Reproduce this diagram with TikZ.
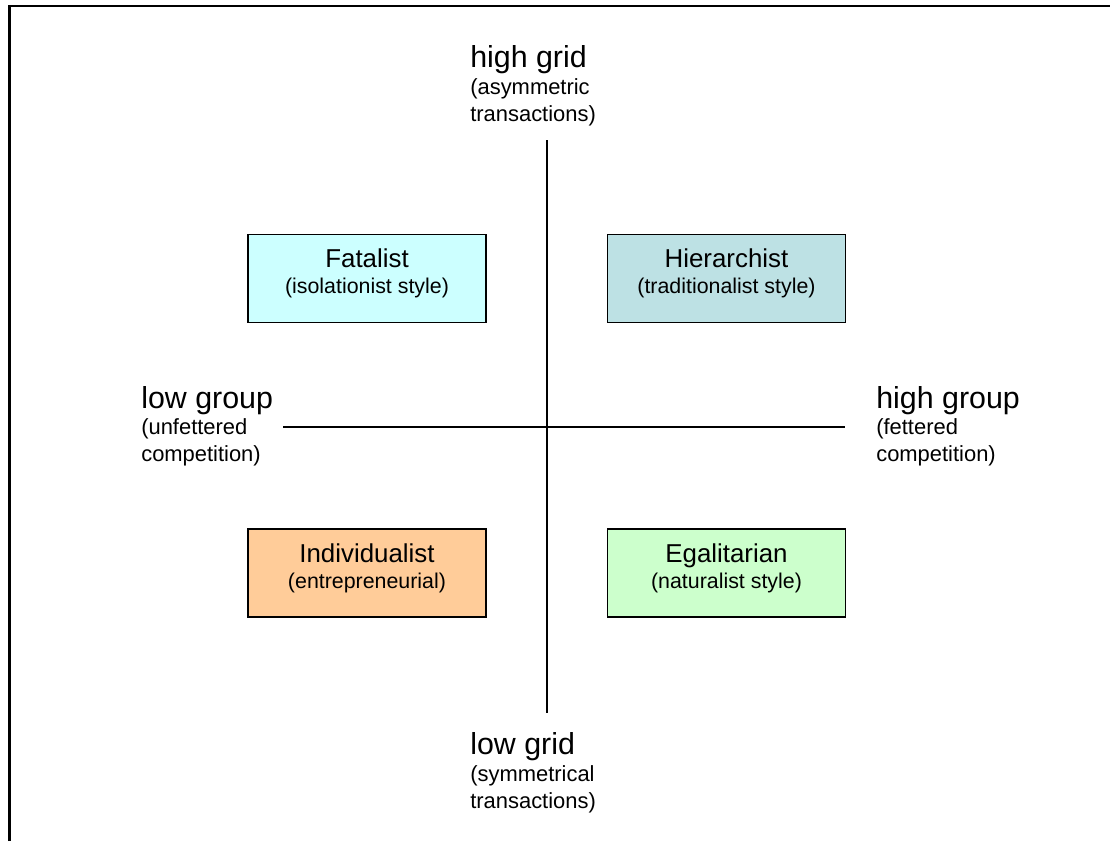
\documentclass[tikz,border=0pt]{standalone}
\usepackage{fontspec}
\setmainfont{Liberation Sans}
\usepackage{xcolor}
\definecolor{fatalfill}{HTML}{CCFFFF}
\definecolor{hierfill}{HTML}{BDE1E4}
\definecolor{indivfill}{HTML}{FFCC99}
\definecolor{egalfill}{HTML}{CCFFCC}
\usepackage{tikz}
\usetikzlibrary{positioning}

\begin{document}
\begin{tikzpicture}[x=0.025cm, y=-0.025cm,
    axislab/.style={anchor=base west, inner sep=0pt, font=\fontsize{21.6}{26}\selectfont},
    axissub/.style={anchor=base west, inner sep=0pt, align=left, font=\fontsize{15.6}{19.2}\selectfont},
    quad/.style={rectangle, draw=black, line width=1.2pt, minimum width=5.95cm, minimum height=2.2cm, inner sep=0pt},
    quadtitle/.style={anchor=base, inner sep=0pt, font=\fontsize{18.4}{22}\selectfont},
    quadsub/.style={anchor=base, inner sep=0pt, font=\fontsize{15.2}{18}\selectfont},
    axis/.style={line width=1pt},
  ]
    \useasboundingbox (0,0) rectangle (1110,841);
    % frame
    \draw[line width=1.6pt] (9.5,841) -- (9.5,6) -- (1110,6);
    % axes
    \coordinate (gtop) at (547,140);
    \coordinate (gbot) at (547,713);
    \coordinate (gleft) at (283,427);
    \coordinate (gright) at (845,427);
    \draw[axis] (gtop) -- (gbot);
    \draw[axis] (gleft) -- (gright);
    % axis labels (sub text sits on its last baseline)
    \node[axislab] (hgrid) at (470,67) {high grid};
    \node[axissub] (hgridsub) at (470,121) {(asymmetric\\transactions)};
    \node[axislab] (lgrid) at (470,754) {low grid};
    \node[axissub] (lgridsub) at (470,808) {(symmetrical\\transactions)};
    \node[axislab] (lgroup) at (141,408) {low group};
    \node[axissub] (lgroupsub) at (141,461) {(unfettered\\competition)};
    \node[axislab] (hgroup) at (876,408) {high group};
    \node[axissub] (hgroupsub) at (876,461) {(fettered\\competition)};
    % quadrants
    \node[quad, fill=fatalfill] (fatal) at (367,278.5) {};
    \node[quadtitle] (fataltitle) at (367,267) {Fatalist};
    \node[quadsub] (fatalsub) at (367,293) {(isolationist style)};
    \node[quad, fill=hierfill] (hier) at (726.5,278.5) {};
    \node[quadtitle] (hiertitle) at (726.5,267) {Hierarchist};
    \node[quadsub] (hiersub) at (726.5,293) {(traditionalist style)};
    \node[quad, fill=indivfill] (indiv) at (367,573) {};
    \node[quadtitle] (indivtitle) at (367,562) {Individualist};
    \node[quadsub] (indivsub) at (367,588) {(entrepreneurial)};
    \node[quad, fill=egalfill] (egal) at (726.5,573) {};
    \node[quadtitle] (egaltitle) at (726.5,562) {Egalitarian};
    \node[quadsub] (egalsub) at (726.5,588) {(naturalist style)};
  \end{tikzpicture}
\end{document}
